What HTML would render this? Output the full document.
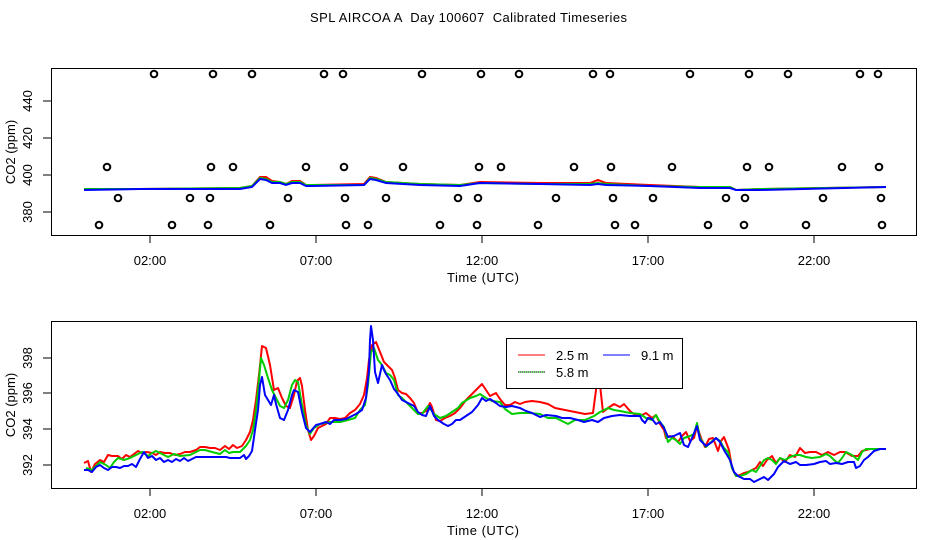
<!DOCTYPE html>
<html><head><meta charset="utf-8"><style>body{margin:0;background:#fff}svg{display:block}text{font-family:"Liberation Sans",sans-serif;font-size:13px;fill:#000}</style></head>
<body>
<svg width="936" height="540" xmlns="http://www.w3.org/2000/svg">
<rect width="936" height="540" fill="#fff"/>
<text x="310" y="22" textLength="317" lengthAdjust="spacing" xml:space="preserve">SPL AIRCOA A  Day 100607  Calibrated Timeseries</text>
<!-- top panel -->
<rect x="51.5" y="68.5" width="865" height="167" fill="none" stroke="#000"/>
<g stroke="#000">
<line x1="150" y1="235" x2="150" y2="243"/><line x1="316" y1="235" x2="316" y2="243"/><line x1="482" y1="235" x2="482" y2="243"/><line x1="648" y1="235" x2="648" y2="243"/><line x1="814" y1="235" x2="814" y2="243"/>
<line x1="51" y1="212" x2="43" y2="212"/><line x1="51" y1="175" x2="43" y2="175"/><line x1="51" y1="138" x2="43" y2="138"/><line x1="51" y1="101" x2="43" y2="101"/>
</g>
<g text-anchor="middle">
<text x="150" y="265">02:00</text><text x="316" y="265">07:00</text><text x="482" y="265">12:00</text><text x="648" y="265">17:00</text><text x="814" y="265">22:00</text>
<text x="483" y="282" textLength="72">Time (UTC)</text>
<text transform="translate(32,212) rotate(-90)">380</text><text transform="translate(32,175) rotate(-90)">400</text><text transform="translate(32,138) rotate(-90)">420</text><text transform="translate(32,101) rotate(-90)">440</text>
<text transform="translate(15,152) rotate(-90)">CO2 (ppm)</text>
</g>
<g fill="none" stroke="#000" stroke-width="2">
<g transform="translate(0,74)"><circle cx="154" r="3.3"/><circle cx="213" r="3.3"/><circle cx="252" r="3.3"/><circle cx="324" r="3.3"/><circle cx="343" r="3.3"/><circle cx="422" r="3.3"/><circle cx="481" r="3.3"/><circle cx="519" r="3.3"/><circle cx="593" r="3.3"/><circle cx="610" r="3.3"/><circle cx="690" r="3.3"/><circle cx="749" r="3.3"/><circle cx="788" r="3.3"/><circle cx="860" r="3.3"/><circle cx="878" r="3.3"/></g>
<g transform="translate(0,167)"><circle cx="107" r="3.3"/><circle cx="211" r="3.3"/><circle cx="233" r="3.3"/><circle cx="306" r="3.3"/><circle cx="344" r="3.3"/><circle cx="403" r="3.3"/><circle cx="479" r="3.3"/><circle cx="501" r="3.3"/><circle cx="574" r="3.3"/><circle cx="611" r="3.3"/><circle cx="672" r="3.3"/><circle cx="747" r="3.3"/><circle cx="769" r="3.3"/><circle cx="842" r="3.3"/><circle cx="879" r="3.3"/></g>
<g transform="translate(0,198)"><circle cx="118" r="3.3"/><circle cx="190" r="3.3"/><circle cx="210" r="3.3"/><circle cx="288" r="3.3"/><circle cx="345" r="3.3"/><circle cx="386" r="3.3"/><circle cx="458" r="3.3"/><circle cx="478" r="3.3"/><circle cx="556" r="3.3"/><circle cx="613" r="3.3"/><circle cx="653" r="3.3"/><circle cx="726" r="3.3"/><circle cx="745" r="3.3"/><circle cx="823" r="3.3"/><circle cx="881" r="3.3"/></g>
<g transform="translate(0,225)"><circle cx="99" r="3.3"/><circle cx="172" r="3.3"/><circle cx="208" r="3.3"/><circle cx="270" r="3.3"/><circle cx="346" r="3.3"/><circle cx="368" r="3.3"/><circle cx="440" r="3.3"/><circle cx="477" r="3.3"/><circle cx="538" r="3.3"/><circle cx="615" r="3.3"/><circle cx="635" r="3.3"/><circle cx="708" r="3.3"/><circle cx="744" r="3.3"/><circle cx="806" r="3.3"/><circle cx="882" r="3.3"/></g>
</g>
<g fill="none" stroke-width="2">
<polyline stroke="#f00" points="84,189 140,189 240,188 252,186 260,177 266,177 272,181 280,182 286,184 292,181 300,181 306,185 312,185 364,184 370,177 376,178 386,182 420,184 460,185 480,182 540,183 590,183 598,180 606,183 650,185 700,187 730,187 736,190 760,189 886,187"/>
<polyline stroke="#0c0" points="84,189 140,189 240,188 252,186 260,178 266,179 272,182 280,182 286,184 292,182 300,182 306,185 312,185 364,185 370,178 376,179 386,182 420,184 460,185 480,183 540,184 590,184 598,183 606,184 650,186 700,187 730,187 736,190 760,189 886,187"/>
<polyline stroke="#00f" points="84,190 140,189 240,189 252,187 260,179 266,180 272,183 280,183 286,185 292,183 300,183 306,186 312,186 364,185 370,179 376,180 386,183 420,185 460,186 480,183 540,184 590,185 598,184 606,185 650,186 700,188 730,188 736,190 760,190 886,187"/>
</g>
<!-- bottom panel -->
<rect x="51.5" y="321.5" width="865" height="167" fill="none" stroke="#000"/>
<g stroke="#000">
<line x1="150" y1="488" x2="150" y2="496"/><line x1="316" y1="488" x2="316" y2="496"/><line x1="482" y1="488" x2="482" y2="496"/><line x1="648" y1="488" x2="648" y2="496"/><line x1="814" y1="488" x2="814" y2="496"/>
<line x1="51" y1="465" x2="43" y2="465"/><line x1="51" y1="429" x2="43" y2="429"/><line x1="51" y1="393" x2="43" y2="393"/><line x1="51" y1="358" x2="43" y2="358"/>
</g>
<g text-anchor="middle">
<text x="150" y="518">02:00</text><text x="316" y="518">07:00</text><text x="482" y="518">12:00</text><text x="648" y="518">17:00</text><text x="814" y="518">22:00</text>
<text x="483" y="535" textLength="72">Time (UTC)</text>
<text transform="translate(32,465) rotate(-90)">392</text><text transform="translate(32,429) rotate(-90)">394</text><text transform="translate(32,393) rotate(-90)">396</text><text transform="translate(32,358) rotate(-90)">398</text>
<text transform="translate(15,405) rotate(-90)">CO2 (ppm)</text>
</g>
<g fill="none" stroke-width="2" stroke-linejoin="round">
<polyline stroke="#f00" points="84,463 88,461 91,472 95,464 100,460 104,462 108,455 112,456 118,456 122,459 126,455 130,457 134,454 138,451 142,453 147,452 152,453 156,455 160,452 165,453 170,453 175,455 180,454 185,452 190,452 196,450 200,447 205,447 210,448 215,448 220,450 225,446 229,449 233,445 237,448 242,446 246,440 250,432 253,420 256,400 259,375 262,346 266,348 270,365 274,390 278,388 282,398 286,406 290,408 294,395 297,381 300,378 302,386 305,410 308,430 311,440 314,436 318,428 322,426 326,424 330,418 335,418 340,419 345,418 350,413 355,410 360,404 364,395 367,378 369,360 372,345 376,342 380,352 384,362 388,366 392,370 395,378 398,390 402,393 406,394 410,398 414,403 418,413 422,413 426,411 430,403 432,407 436,420 440,421 445,418 450,416 455,413 460,408 466,400 472,394 478,388 482,384 486,390 490,396 496,393 500,399 505,405 510,405 515,402 520,404 525,402 532,401 540,402 548,404 555,408 565,410 575,412 585,414 593,413 596,390 598,363 600,385 603,412 608,408 614,404 620,407 624,404 630,411 635,415 640,416 646,413 652,418 656,415 660,424 664,430 666,438 670,436 674,438 678,442 682,436 686,432 690,441 694,438 697,426 701,438 705,447 709,439 713,438 718,451 721,441 724,437 729,450 732,468 736,476 740,475 744,473 748,472 752,470 756,468 760,462 763,466 767,460 772,456 776,463 780,458 785,462 790,455 795,457 800,448 805,453 810,452 816,452 822,455 828,452 834,455 840,452 845,452 852,456 858,456 862,451 866,450 870,449 876,449 880,449 886,449"/>
<polyline stroke="#0c0" points="86,468 92,470 96,466 100,462 106,465 110,468 114,462 118,458 124,460 130,458 136,455 142,452 148,456 152,453 156,451 162,454 168,457 174,454 180,456 190,455 196,452 200,450 205,450 212,452 220,454 225,450 229,453 233,452 240,452 246,446 250,440 253,430 256,410 259,380 261,358 264,365 268,378 272,390 276,398 280,406 284,408 288,400 292,385 295,380 298,382 302,405 306,425 310,434 314,428 320,424 330,422 340,422 348,420 355,418 360,410 365,405 368,385 371,352 374,348 378,360 382,365 386,373 390,375 394,380 398,395 402,398 406,402 410,406 414,410 418,414 422,414 428,406 434,414 440,418 446,416 452,412 458,408 462,403 470,398 476,396 480,394 486,398 492,401 500,402 505,409 512,414 520,413 530,413 540,414 548,418 556,418 562,421 568,424 575,420 585,420 594,416 600,412 608,408 614,410 620,411 630,413 640,414 646,418 652,420 656,415 660,422 664,427 668,442 672,438 676,440 680,444 684,438 690,436 694,434 697,423 700,438 706,447 711,442 716,438 720,441 724,448 728,452 732,468 736,476 740,476 746,474 752,470 756,472 760,466 764,460 768,458 772,460 776,464 780,458 785,460 790,457 796,455 800,455 806,457 812,458 820,457 826,454 830,456 834,460 838,463 842,458 846,452 852,455 858,460 862,452 866,449 874,449 886,449"/>
<polyline stroke="#00f" points="84,470 88,470 92,472 96,467 100,465 104,468 108,470 112,467 116,467 120,468 124,466 128,466 132,464 136,467 140,459 144,452 148,458 152,456 156,460 160,458 164,462 168,460 172,462 176,459 180,461 184,458 188,461 192,459 196,457 200,457 210,457 220,457 226,457 230,458 236,458 240,458 244,455 246,459 249,456 252,451 255,430 258,410 260,385 262,377 265,395 268,400 271,405 274,395 276,404 280,418 284,420 288,410 292,395 294,390 298,392 302,412 306,428 310,432 316,425 320,424 326,422 330,424 334,420 340,420 346,419 350,417 356,414 362,410 366,398 369,370 370,340 371,326 373,340 375,372 378,383 380,374 382,365 384,370 386,374 390,380 394,389 398,394 402,400 406,402 410,404 414,406 418,412 422,415 426,416 430,406 434,416 438,420 444,424 448,426 452,424 456,420 460,420 466,416 472,412 478,405 482,398 486,401 490,399 496,403 500,406 506,407 512,406 520,408 526,411 532,413 540,417 546,415 556,416 562,418 570,418 578,420 584,422 592,420 598,422 604,418 612,416 620,415 630,416 640,416 642,420 645,423 648,418 652,419 656,424 660,422 664,428 668,437 674,436 680,433 684,445 688,447 692,438 697,426 700,440 706,446 712,442 716,438 720,442 724,450 730,460 734,472 738,476 744,479 750,479 754,482 760,479 764,477 768,480 774,474 778,467 784,461 790,464 796,462 800,465 806,465 814,464 820,462 826,461 830,464 836,463 842,464 848,462 854,462 856,468 860,466 864,460 868,457 874,451 880,449 886,449"/>
</g>
<!-- legend -->
<rect x="506.5" y="338.5" width="176" height="50" fill="#fff" stroke="#000"/>
<line x1="518" y1="355" x2="545" y2="355" stroke="#f00"/>
<line x1="518" y1="372" x2="545" y2="372" stroke="#0c0"/>
<line x1="518" y1="372" x2="545" y2="372" stroke="#000" stroke-dasharray="1,1"/>
<line x1="603" y1="355" x2="630" y2="355" stroke="#00f"/>
<text x="556" y="360">2.5 m</text>
<text x="556" y="377">5.8 m</text>
<text x="641" y="360">9.1 m</text>
</svg>
</body></html>
